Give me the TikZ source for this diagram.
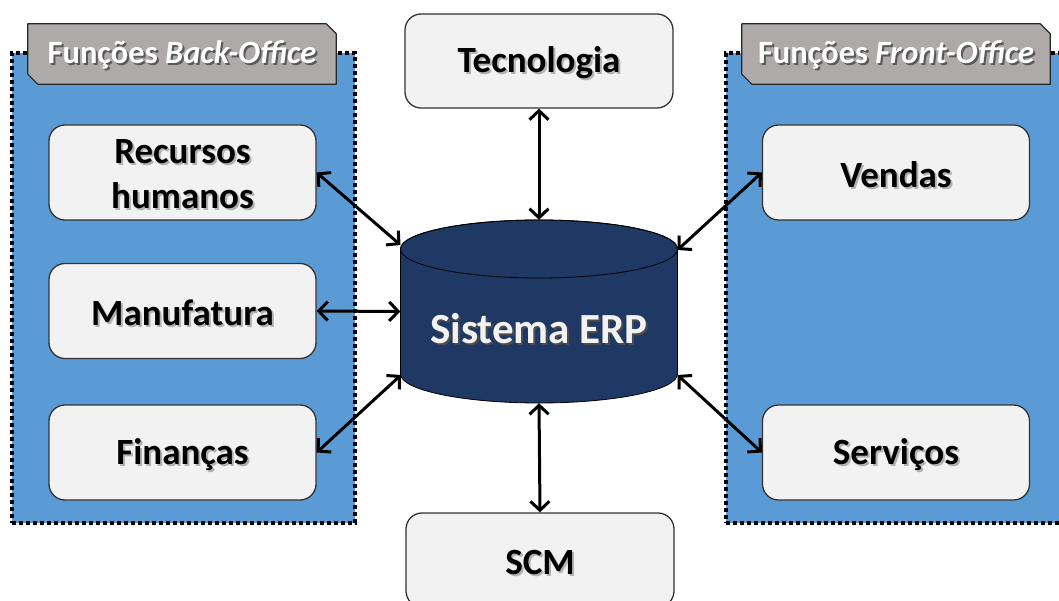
\documentclass[tikz,border=0pt]{standalone}
\usepackage{fontspec}
\setmainfont{Carlito}
\usetikzlibrary{arrows.meta}

\definecolor{panelblue}{HTML}{5B9BD5}
\definecolor{boxfill}{HTML}{F2F2F2}
\definecolor{taggray}{HTML}{AEAAAA}
\definecolor{erpnavy}{HTML}{1F3864}

% text with a small drop shadow: #1 shadow colour, #2 text colour, #3 text,
% set a little lower than its box would put it
\newcommand\shadowed[4][3pt]{%
  \raisebox{-#1}[\height][\depth]{%
  \makebox[0pt][l]{\hspace{2pt}\raisebox{-2pt}{\textcolor{#2}{#4}}}\textcolor{#3}{#4}}}

\tikzset{
  panel/.style={fill=panelblue, draw=black, line width=3.8pt,
    dash pattern=on 3.8pt off 3.2pt, inner sep=0pt},
  tagbox/.style={fill=taggray, draw=black!85, line width=1.2pt, line join=round},
  tagtext/.style={inner sep=0pt, minimum width=308pt, minimum height=60pt,
    font=\bfseries\fontsize{32.5}{38}\selectfont},
  unit/.style={rounded corners=16pt, fill=boxfill, draw=black!80, line width=1.3pt,
    minimum width=267pt, minimum height=95pt, align=center, inner sep=0pt,
    font=\bfseries\fontsize{37}{45}\selectfont},
  link/.style={line width=3pt, line join=round,
    {Straight Barb[length=9pt,width=19pt]}-{Straight Barb[length=9pt,width=19pt]}},
}

\begin{document}
\begin{tikzpicture}[x=1pt, y=-1pt]
\useasboundingbox (0,0) rectangle (1059,601);

% back-office and front-office panels
\node[panel, minimum width=343pt, minimum height=470pt] (back) at (183.5,288) {};
\node[panel, minimum width=339pt, minimum height=470pt] (front) at (895.5,288) {};

% panel headings with cut corners
\node[tagtext] (backtag) at (182,54) {};
\draw[tagbox] (backtag.north west) -- ([xshift=-10pt]backtag.north east)
  -- ([yshift=-10pt]backtag.north east) -- (backtag.south east)
  -- ([xshift=10pt]backtag.south west) -- ([yshift=10pt]backtag.south west) -- cycle;
\node[tagtext] (backtagtext) at (backtag) {\shadowed[2pt]{black!65}{white}{Funções \textit{Back-Office}}};

\node[tagtext] (fronttag) at (896,54) {};
\draw[tagbox] (fronttag.north west) -- ([xshift=-10pt]fronttag.north east)
  -- ([yshift=-10pt]fronttag.north east) -- (fronttag.south east)
  -- ([xshift=10pt]fronttag.south west) -- ([yshift=10pt]fronttag.south west) -- cycle;
\node[tagtext] (fronttagtext) at (fronttag) {\shadowed[2pt]{black!65}{white}{Funções \textit{Front-Office}}};

% functional units
\node[unit] (rh)   at (182.5,172.5) {\shadowed{black!30}{black}{Recursos}\\\shadowed{black!30}{black}{humanos}};
\node[unit] (mf)   at (182.5,311)   {\shadowed{black!30}{black}{Manufatura}};
\node[unit] (fin)  at (182.5,452.5) {\shadowed{black!30}{black}{Finanças}};
\node[unit] (vend) at (896,172.5)   {\shadowed{black!30}{black}{Vendas}};
\node[unit] (serv) at (896,452.5)   {\shadowed{black!30}{black}{Serviços}};
\node[unit, minimum width=268pt, minimum height=94pt] (tec) at (539,61)  {\shadowed{black!30}{black}{Tecnologia}};
\node[unit, minimum width=268pt, minimum height=94pt] (scm) at (540,560) {\shadowed{black!30}{black}{SCM}};

% ERP database cylinder
\node[inner sep=0pt, minimum width=277pt, minimum height=183pt] (erp) at (539,311.5) {};
\path[draw=black, line width=0.8pt, fill=erpnavy]
  (400.5,249) -- (400.5,374) arc[start angle=180, end angle=360, x radius=138.5pt, y radius=29pt]
  -- (677.5,249) arc[start angle=0, end angle=180, x radius=138.5pt, y radius=29pt] -- cycle;
\draw[line width=0.8pt] (539,249) ellipse[x radius=138.5pt, y radius=29pt];
\node[font=\bfseries\fontsize{43}{50}\selectfont, inner sep=0pt] (erptext) at (539,330)
  {\shadowed[0pt]{black!70}{white!95!black}{Sistema ERP}};

\coordinate (erpUL) at (400.5,245);
\coordinate (erpLL) at (401,375);
\coordinate (erpUR) at (677.5,250);
\coordinate (erpLR) at (677.5,375);

% connections to the ERP system
\draw[link] (tec.south) -- (erp.north);
\draw[link] (scm.north) -- (erp.south);
\draw[link] (rh.east) -- (erpUL);
\draw[link] (mf.east) -- (erp.west);
\draw[link] (fin.east) -- (erpLL);
\draw[link] (vend.west) -- (erpUR);
\draw[link] (serv.west) -- (erpLR);
\end{tikzpicture}
\end{document}
